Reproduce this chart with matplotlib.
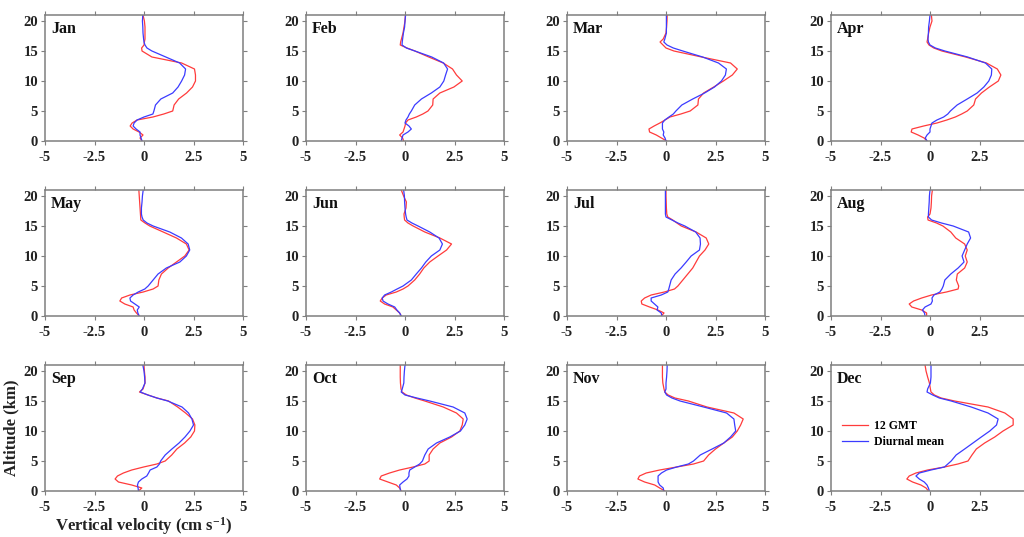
import matplotlib
matplotlib.use("Agg")
import matplotlib.pyplot as plt

plt.rcParams["font.family"] = ["Liberation Serif", "DejaVu Serif"]
plt.rcParams["font.weight"] = "bold"
plt.rcParams["mathtext.fontset"] = "custom"
plt.rcParams["mathtext.rm"] = "Liberation Serif:bold"
plt.rcParams["mathtext.bf"] = "Liberation Serif:bold"
plt.rcParams["mathtext.default"] = "bf"

# altitude levels (km), shared by every profile
altitude = [0, 0.5, 1, 1.5, 2, 2.5, 3, 3.5, 4, 4.5, 5, 6, 7, 8, 9, 10, 11, 12,
            13, 14, 15, 15.5, 16, 16.5, 17, 18, 19, 20, 21]

months = ["Jan", "Feb", "Mar", "Apr", "May", "Jun",
          "Jul", "Aug", "Sep", "Oct", "Nov", "Dec"]

# vertical velocity (cm/s) at 12 GMT
gmt12 = {
    "Jan": [-0.1, -0.2, -0.05, -0.25, -0.55, -0.7, -0.6, -0.35, 0.45, 1.0, 1.45, 1.52, 1.75, 2.15, 2.45, 2.6, 2.6, 2.55,
            1.9, 0.4, -0.1, -0.12, 0.0, 0.02, 0.05, 0.05, 0.05, 0.02, -0.05],
    "Feb": [-0.07, -0.12, -0.27, -0.1, -0.05, 0.0, 0.03, 0.15, 0.57, 0.9, 1.16, 1.4, 1.42, 1.76, 2.47, 2.89, 2.6, 2.4,
            1.93, 1.2, 0.5, 0.1, -0.24, -0.22, -0.18, -0.1, -0.05, 0.0, 0.02],
    "Mar": [0.03, -0.23, -0.49, -0.83, -0.86, -0.6, -0.31, -0.05, 0.2, 0.75, 1.22, 1.61, 1.64, 1.9, 2.41, 2.9, 3.35, 3.6,
            3.26, 1.8, 0.4, 0.0, -0.15, -0.3, -0.14, 0.0, 0.03, 0.05, 0.06],
    "Apr": [-0.15, -0.3, -0.6, -0.95, -0.91, -0.32, 0.35, 0.85, 1.28, 1.6, 1.88, 2.21, 2.3, 2.6, 3.0, 3.45, 3.58, 3.4,
            2.85, 1.8, 0.6, 0.19, -0.05, -0.15, -0.12, -0.07, 0.0, 0.1, 0.07],
    "May": [-0.24, -0.38, -0.5, -0.55, -0.97, -1.22, -1.13, -0.71, -0.04, 0.46, 0.71, 0.75, 0.88, 1.22, 1.64, 2.06, 2.28, 2.14,
            1.64, 0.97, 0.29, 0.05, -0.16, -0.17, -0.18, -0.2, -0.22, -0.24, -0.26],
    "Jun": [-0.19, -0.27, -0.44, -0.61, -1.03, -1.25, -1.15, -0.95, -0.44, -0.1, 0.15, 0.49, 0.74, 0.95, 1.25, 1.67, 2.1, 2.35,
            1.76, 1.0, 0.41, 0.15, -0.02, -0.04, -0.05, 0.05, 0.07, -0.07, -0.19],
    "Jul": [-0.24, -0.1, -0.41, -0.83, -1.22, -1.25, -1.08, -0.75, -0.08, 0.43, 0.6, 0.85, 1.1, 1.35, 1.52, 1.69, 1.97, 2.16,
            2.03, 1.52, 0.77, 0.55, 0.34, 0.09, 0.04, 0.02, 0.01, 0.0, 0.0],
    "Aug": [-0.17, -0.17, -0.42, -0.92, -1.05, -0.83, -0.42, 0.08, 0.83, 1.42, 1.45, 1.33, 1.38, 1.75, 1.88, 1.78, 1.88, 1.75,
            1.3, 1.05, 0.65, 0.33, -0.1, -0.12, 0.0, 0.05, 0.07, 0.08, 0.12],
    "Sep": [-0.28, -0.11, -0.62, -1.29, -1.46, -1.34, -1.04, -0.62, -0.02, 0.65, 1.07, 1.4, 1.66, 2.05, 2.36, 2.55, 2.57, 2.45,
            2.1, 1.7, 1.24, 0.65, 0.2, -0.23, -0.05, 0.05, 0.05, 0.02, 0.0],
    "Oct": [-0.19, -0.27, -0.44, -0.86, -1.28, -1.2, -0.78, -0.27, 0.41, 1.0, 1.22, 1.22, 1.42, 1.76, 2.35, 2.77, 2.89, 2.94,
            2.6, 1.93, 1.0, 0.5, 0.07, -0.15, -0.2, -0.23, -0.24, -0.24, -0.24],
    "Nov": [-0.06, -0.32, -0.57, -1.08, -1.42, -1.34, -1.0, -0.32, 0.54, 1.39, 1.9, 2.15, 2.5, 2.92, 3.35, 3.6, 3.77, 3.9,
            3.43, 2.07, 1.13, 0.45, 0.11, -0.06, -0.1, -0.16, -0.18, -0.18, -0.18],
    "Dec": [-0.08, -0.2, -0.46, -0.88, -1.17, -1.05, -0.71, -0.12, 0.73, 1.41, 1.92, 2.12, 2.34, 2.76, 3.27, 3.69, 4.2, 4.2,
            3.78, 2.93, 1.24, 0.56, 0.22, 0.05, 0.02, -0.03, -0.12, -0.2, -0.25],
}

# vertical velocity (cm/s), diurnal mean
diurnal = {
    "Jan": [-0.1, -0.15, -0.2, -0.2, -0.4, -0.55, -0.5, -0.35, 0.0, 0.45, 0.5, 0.58, 0.85, 1.45, 1.72, 1.9, 2.05, 2.1,
            1.8, 1.1, 0.4, 0.15, 0.05, 0.0, -0.02, -0.05, -0.06, -0.08, -0.06],
    "Feb": [-0.19, -0.15, -0.1, 0.15, 0.32, 0.2, 0.0, 0.05, 0.15, 0.22, 0.32, 0.49, 0.83, 1.33, 1.76, 1.96, 2.05, 2.15,
            1.95, 1.35, 0.5, 0.07, -0.15, -0.14, -0.12, -0.08, -0.02, 0.0, 0.03],
    "Mar": [0.0, -0.05, -0.14, -0.11, -0.18, -0.18, -0.18, -0.06, 0.15, 0.37, 0.5, 0.8, 1.35, 1.95, 2.45, 2.8, 3.0, 3.05,
            2.65, 1.85, 0.85, 0.37, 0.05, -0.11, -0.06, 0.02, 0.02, 0.02, 0.02],
    "Apr": [-0.15, -0.24, -0.15, 0.0, 0.0, 0.05, 0.1, 0.35, 0.69, 0.9, 1.03, 1.37, 1.88, 2.38, 2.72, 2.97, 3.1, 3.12,
            2.8, 1.9, 0.75, 0.27, 0.0, -0.08, -0.1, -0.08, -0.07, -0.03, 0.0],
    "May": [-0.24, -0.31, -0.34, -0.24, -0.46, -0.68, -0.71, -0.55, -0.29, 0.04, 0.21, 0.46, 0.71, 1.13, 1.81, 2.14, 2.31, 2.23,
            1.89, 1.3, 0.46, 0.15, -0.04, -0.1, -0.13, -0.13, -0.1, -0.08, -0.04],
    "Jun": [-0.19, -0.27, -0.41, -0.52, -0.86, -1.11, -1.15, -1.03, -0.69, -0.4, -0.1, 0.32, 0.57, 0.83, 1.05, 1.33, 1.76, 1.89,
            1.72, 1.25, 0.66, 0.35, 0.1, 0.06, 0.03, 0.0, -0.02, -0.03, -0.07],
    "Jul": [-0.21, -0.24, -0.45, -0.41, -0.58, -0.75, -0.75, -0.24, 0.09, 0.14, 0.18, 0.26, 0.46, 0.76, 1.02, 1.27, 1.69, 1.74,
            1.72, 1.5, 0.95, 0.6, 0.3, 0.0, -0.03, -0.03, -0.03, -0.03, -0.03],
    "Aug": [-0.25, -0.28, -0.38, -0.25, 0.05, 0.12, 0.1, 0.2, 0.5, 0.6, 0.67, 0.75, 1.05, 1.42, 1.72, 1.62, 1.75, 1.88,
            2.05, 1.95, 1.17, 0.58, 0.08, -0.08, -0.08, -0.06, -0.04, -0.03, 0.0],
    "Sep": [-0.28, -0.3, -0.33, -0.28, -0.11, 0.14, 0.23, 0.31, 0.65, 0.78, 0.84, 1.07, 1.41, 1.77, 2.07, 2.32, 2.5, 2.42,
            2.25, 1.92, 1.2, 0.65, 0.2, -0.19, -0.08, 0.05, 0.03, 0.0, -0.06],
    "Oct": [-0.22, -0.25, -0.27, -0.1, 0.1, 0.2, 0.2, 0.24, 0.49, 0.74, 0.88, 1.0, 1.17, 1.59, 2.26, 2.8, 3.02, 3.14,
            3.02, 2.43, 1.25, 0.6, 0.0, -0.19, -0.14, -0.06, -0.05, -0.03, 0.0],
    "Nov": [-0.11, -0.14, -0.32, -0.4, -0.4, -0.4, -0.23, 0.03, 0.54, 1.13, 1.39, 1.73, 2.33, 2.92, 3.26, 3.52, 3.47, 3.43,
            3.06, 1.9, 0.71, 0.3, 0.03, -0.06, 0.0, 0.0, 0.03, 0.05, 0.06],
    "Dec": [-0.03, -0.08, -0.15, -0.29, -0.54, -0.71, -0.54, 0.05, 0.73, 0.9, 1.07, 1.32, 1.75, 2.17, 2.59, 3.02, 3.36, 3.44,
            2.93, 2.08, 1.07, 0.47, 0.14, -0.15, -0.12, 0.02, 0.05, 0.05, 0.05],
}

x_ticks = [-5, -2.5, 0, 2.5, 5]
x_tick_labels = ["-5", "-2.5", "0", "2.5", "5"]
y_ticks = [0, 5, 10, 15, 20]

RED = "#ff3b3b"
BLUE = "#3b3bff"
GREY = "#7f7f7f"

W, H = 1024, 537
fig = plt.figure(figsize=(W / 100, H / 100), dpi=100)

col_left = [45, 306, 567, 831]
row_top = [15, 190, 365]
ax_w, ax_h = 198, 126

for i, month in enumerate(months):
    r, c = divmod(i, 4)
    left = col_left[c] / W
    bottom = 1 - (row_top[r] + ax_h) / H
    ax = fig.add_axes([left, bottom, ax_w / W, ax_h / H])

    ax.plot(gmt12[month], altitude, color=RED, lw=0.9, label="12 GMT")
    ax.plot(diurnal[month], altitude, color=BLUE, lw=0.9, label="Diurnal mean")

    ax.set_xlim(-5, 5)
    ax.set_ylim(0, 21)
    ax.set_xticks(x_ticks)
    ax.set_xticklabels(x_tick_labels)
    ax.set_yticks(y_ticks)
    ax.tick_params(direction="out", length=3, width=0.8, color=GREY,
                   top=True, right=True, labelsize=10.5, labelcolor="#222222", pad=2)
    ax.tick_params(axis="x", pad=4)
    for s in ax.spines.values():
        s.set_color(GREY)
        s.set_linewidth(1.1)
    for lab in ax.get_xticklabels() + ax.get_yticklabels():
        lab.set_fontweight("bold")

    ax.text(0.03, 0.86, month, transform=ax.transAxes, fontsize=11.5,
            fontweight="bold", color="#111111", va="baseline", ha="left")

    if month == "Sep":
        ax.set_ylabel("Altitude (km)", fontsize=12, fontweight="bold",
                      color="#222222", labelpad=3)
        ax.set_xlabel("Vertical velocity (cm s$^{-1}$)", fontsize=12,
                      fontweight="bold", color="#222222", labelpad=1)
    if month == "Dec":
        ax.legend(loc="center left", bbox_to_anchor=(0.0, 0.45), frameon=False,
                  handlelength=2.2, handletextpad=0.5, labelspacing=0.35,
                  prop={"weight": "bold", "size": 8.5})

fig.savefig("out.png", dpi=100)
